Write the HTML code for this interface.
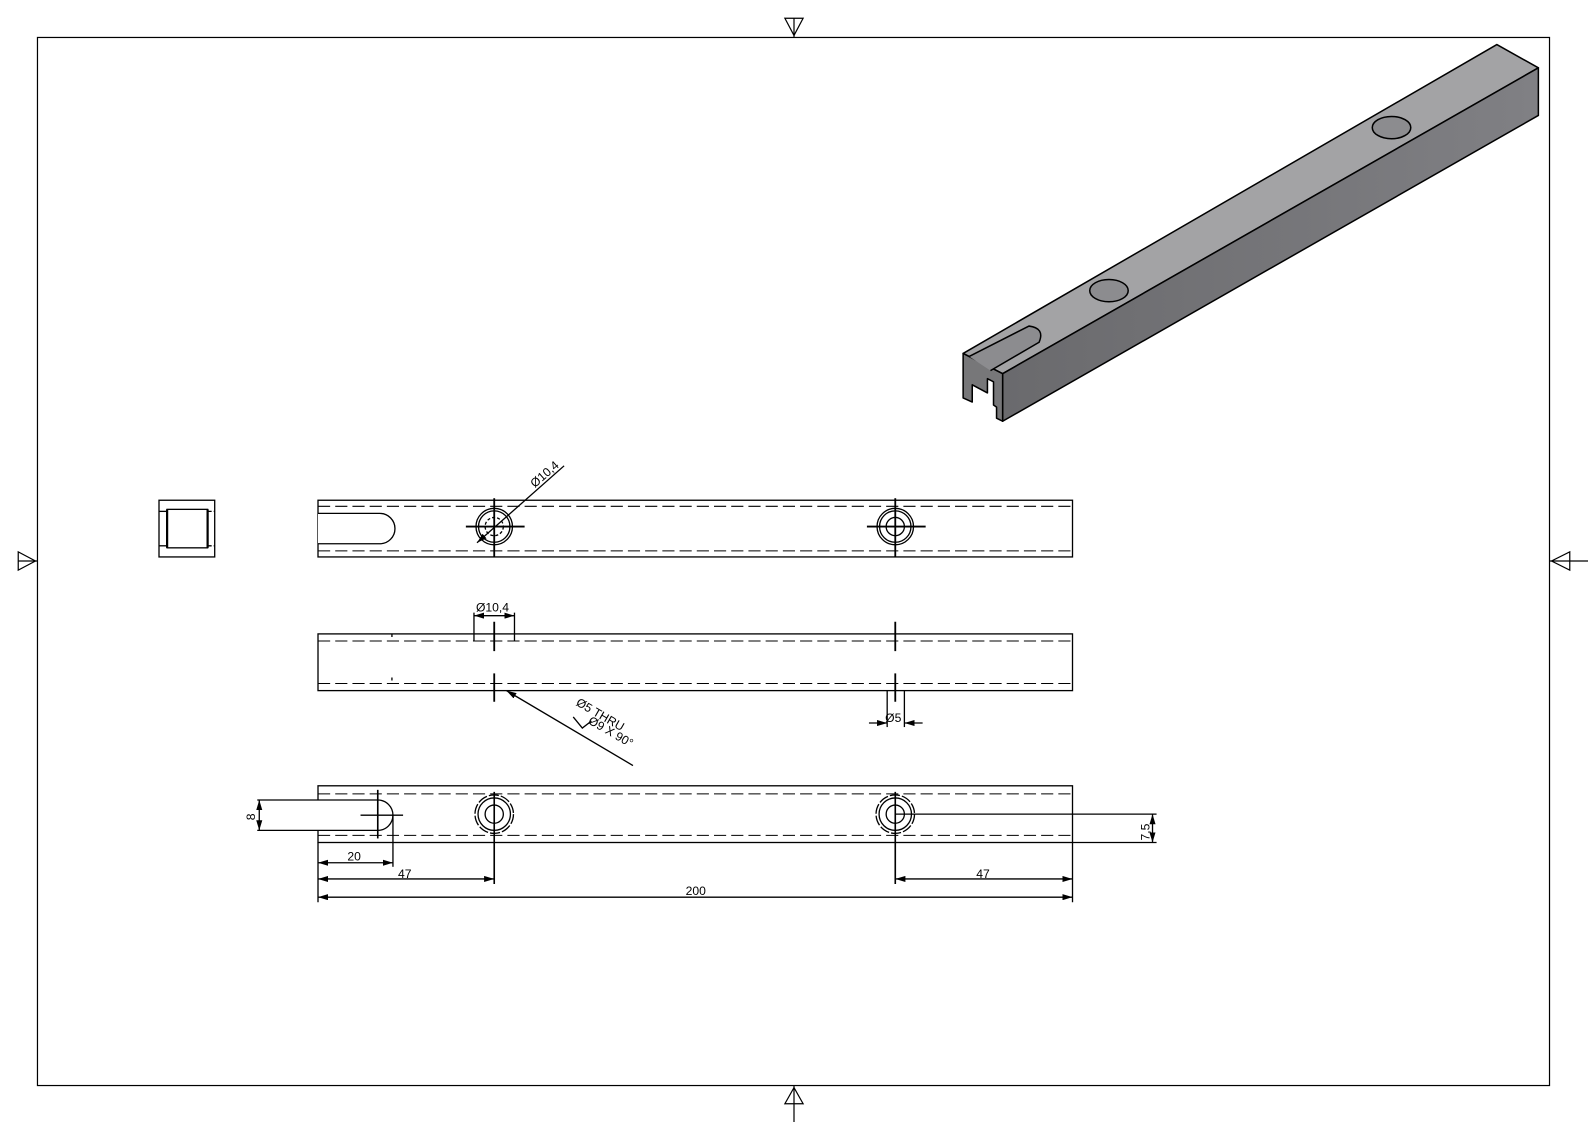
<!DOCTYPE html>
<html><head><style>html,body{margin:0;padding:0;background:#fff}svg{display:block}</style></head><body>
<svg width="1588" height="1123" viewBox="0 0 1568 1109" preserveAspectRatio="none" xmlns="http://www.w3.org/2000/svg" font-family="Liberation Sans, sans-serif">
<defs>
<marker id="a" viewBox="0 0 10 6" refX="10" refY="3" markerWidth="10" markerHeight="6" orient="auto-start-reverse" markerUnits="userSpaceOnUse"><path d="M0,0L10,3L0,6z" fill="#000"/></marker>
<linearGradient id="side" x1="0" y1="0" x2="1" y2="0"><stop offset="0" stop-color="#6a6a6d"/><stop offset="1" stop-color="#808084"/></linearGradient>
</defs>
<g fill="none" stroke="#000" stroke-width="1.2">
<rect x="37" y="37" width="1493" height="1035"/>
<line x1="784" y1="18" x2="784" y2="37"/><path d="M775,18L793,18L784,35z"/>
<line x1="784" y1="1072" x2="784" y2="1108"/><path d="M775,1090L793,1090L784,1074z"/>
<line x1="18" y1="554" x2="37" y2="554"/><path d="M18,545L18,563L35,554z"/>
<line x1="1530" y1="554" x2="1568" y2="554"/><path d="M1550,545L1550,563L1532,554z"/>
</g>
<!-- isometric -->
<g stroke="#000" stroke-width="1.5" stroke-linejoin="round">
<polygon points="951,349 1478,44 1519,67 990,369" fill="#a3a3a5"/>
<polygon points="990,369 1519,67 1519,114 990,416" fill="url(#side)"/>
<polygon points="951,349 990,369 990,416 984,413 984,402 981,400 981,377 975,374 975,388 960,380 960,397 951,393" fill="#777779"/>
<path d="M957,352 L1016,322 Q1032,324 1026,338 L978,366" fill="#8c8c8f"/>
<ellipse cx="1095" cy="287" rx="19" ry="11" fill="#8c8c8f"/>
<ellipse cx="1374" cy="126" rx="19" ry="11" fill="#8c8c8f"/>
</g>
<g fill="none" stroke="#000" stroke-width="1.3">
<!-- end view -->
<rect x="157" y="494" width="55" height="56"/>
<rect x="165" y="503" width="40" height="38"/>
<line x1="165" y1="503" x2="165" y2="541" stroke-width="2.2"/><line x1="205" y1="503" x2="205" y2="541" stroke-width="2.2"/>
<line x1="157" y1="505" x2="165" y2="505"/><line x1="157" y1="539" x2="165" y2="539"/>
<line x1="205" y1="505" x2="212" y2="505" stroke-dasharray="4 2"/><line x1="205" y1="539" x2="212" y2="539" stroke-dasharray="4 2"/>
<!-- view 1 -->
<rect x="314" y="494" width="745" height="56"/>
<line x1="314" y1="500" x2="1059" y2="500" stroke-dasharray="12 5" stroke-width="1"/>
<line x1="314" y1="544" x2="1059" y2="544" stroke-dasharray="12 5" stroke-width="1"/>
<path d="M314,507 H375 A15,15 0 0 1 375,537 H314" fill="#fff"/>
<circle cx="488" cy="520" r="18" fill="#fff"/><circle cx="488" cy="520" r="15.5"/><circle cx="488" cy="520" r="9" stroke-dasharray="3 2"/>
<circle cx="884" cy="520" r="18" fill="#fff"/><circle cx="884" cy="520" r="15.5"/><circle cx="884" cy="520" r="9"/>
<line x1="460" y1="520" x2="518" y2="520" stroke-width="1.8"/><line x1="488" y1="492" x2="488" y2="550" stroke-width="1.8"/>
<line x1="856" y1="520" x2="914" y2="520" stroke-width="1.8"/><line x1="884" y1="492" x2="884" y2="550" stroke-width="1.8"/>
<line x1="471" y1="536" x2="557" y2="460" marker-start="url(#a)"/>
<!-- view 2 -->
<rect x="314" y="626" width="745" height="56"/>
<line x1="314" y1="633" x2="1059" y2="633" stroke-dasharray="12 5" stroke-width="1"/>
<line x1="314" y1="675" x2="1059" y2="675" stroke-dasharray="12 5" stroke-width="1"/>
<line x1="387" y1="626" x2="387" y2="682" stroke-dasharray="3 40" />
<line x1="488" y1="614" x2="488" y2="643" stroke-width="1.8"/><line x1="488" y1="665" x2="488" y2="693" stroke-width="1.8"/>
<line x1="884" y1="614" x2="884" y2="643" stroke-width="1.8"/><line x1="884" y1="665" x2="884" y2="693" stroke-width="1.8"/>
<line x1="468" y1="605" x2="468" y2="633"/><line x1="508" y1="605" x2="508" y2="633"/>
<line x1="468" y1="608" x2="508" y2="608" marker-start="url(#a)" marker-end="url(#a)"/>
<line x1="625" y1="756" x2="500" y2="682" marker-end="url(#a)"/>
<line x1="876" y1="682" x2="876" y2="718"/><line x1="893" y1="682" x2="893" y2="718"/>
<line x1="858" y1="714" x2="876" y2="714" marker-end="url(#a)"/><line x1="911" y1="714" x2="893" y2="714" marker-end="url(#a)"/>
<path d="M566,708 L575,719 L584,712"/>
<!-- view 3 -->
<rect x="314" y="776" width="745" height="56"/>
<line x1="314" y1="784" x2="1059" y2="784" stroke-dasharray="12 5" stroke-width="1"/>
<line x1="314" y1="825" x2="1059" y2="825" stroke-dasharray="12 5" stroke-width="1"/>
<path d="M254,790 H373 A15,15 0 0 1 373,820 H254" fill="#fff"/>
<line x1="373" y1="780" x2="373" y2="828" stroke-width="1.6"/><line x1="356" y1="805" x2="398" y2="805"/>
<circle cx="488" cy="804" r="19" stroke-dasharray="10 2"/><circle cx="488" cy="804" r="16"/><circle cx="488" cy="804" r="9"/>
<circle cx="884" cy="804" r="19" stroke-dasharray="10 2"/><circle cx="884" cy="804" r="16"/><circle cx="884" cy="804" r="9"/>
<line x1="488" y1="782" x2="488" y2="873" stroke-width="1.6"/><line x1="884" y1="782" x2="884" y2="873" stroke-width="1.6"/>
<line x1="884" y1="804" x2="1142" y2="804"/><line x1="1059" y1="832" x2="1142" y2="832"/>
<line x1="1138" y1="804" x2="1138" y2="832" marker-start="url(#a)" marker-end="url(#a)"/>
<line x1="256" y1="790" x2="256" y2="820" marker-start="url(#a)" marker-end="url(#a)"/>
<line x1="314" y1="832" x2="314" y2="891"/><line x1="388" y1="805" x2="388" y2="856"/><line x1="1059" y1="832" x2="1059" y2="891"/>
<line x1="314" y1="852" x2="388" y2="852" marker-start="url(#a)" marker-end="url(#a)"/>
<line x1="314" y1="868" x2="488" y2="868" marker-start="url(#a)" marker-end="url(#a)"/>
<line x1="884" y1="868" x2="1059" y2="868" marker-start="url(#a)" marker-end="url(#a)"/>
<line x1="314" y1="886" x2="1059" y2="886" marker-start="url(#a)" marker-end="url(#a)"/>
</g>
<g font-size="12" fill="#000">
<text x="528" y="482" transform="rotate(-41 528 482)">Ø10,4</text>
<text x="470" y="604">Ø10,4</text>
<text x="568" y="696" transform="rotate(30 568 696)">Ø5 THRU</text>
<text x="580" y="714" transform="rotate(30 580 714)">Ø9 X 90°</text>
<text x="874" y="713">Ø5</text>
<text x="343" y="850">20</text>
<text x="393" y="867">47</text>
<text x="964" y="867">47</text>
<text x="677" y="884">200</text>
<text x="252" y="810" transform="rotate(-90 252 810)">8</text>
<text x="1135" y="830" transform="rotate(-90 1135 830)">7,5</text>
</g>
</svg>
</body></html>
